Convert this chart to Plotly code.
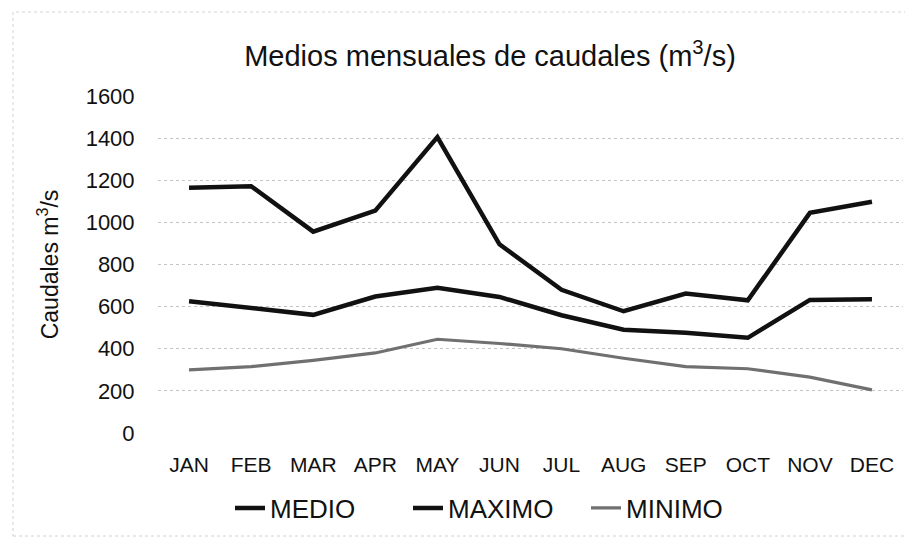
import plotly.graph_objects as go

months = ["JAN", "FEB", "MAR", "APR", "MAY", "JUN", "JUL", "AUG", "SEP", "OCT", "NOV", "DEC"]
medio = [626, 594, 561, 648, 690, 646, 559, 490, 476, 452, 632, 635]
maximo = [1164, 1172, 956, 1056, 1405, 896, 680, 578, 662, 630, 1045, 1098]
minimo = [300, 315, 345, 380, 445, 425, 400, 355, 315, 305, 265, 205]
y_ticks = [0, 200, 400, 600, 800, 1000, 1200, 1400, 1600]

FONT = "Liberation Sans, Arial, sans-serif"

fig = go.Figure()
fig.add_trace(go.Scatter(x=months, y=medio, name="MEDIO", mode="lines",
                         line=dict(color="#111111", width=4.5)))
fig.add_trace(go.Scatter(x=months, y=maximo, name="MAXIMO", mode="lines",
                         line=dict(color="#111111", width=4.5)))
fig.add_trace(go.Scatter(x=months, y=minimo, name="MINIMO", mode="lines",
                         line=dict(color="#707070", width=3.2)))

W, H = 913, 539
L, R, T, B = 150, 18, 88, 114
PW, PH = W - L - R, H - T - B

fig.update_layout(
    width=W, height=H,
    margin=dict(l=L, r=R, t=T, b=B),
    paper_bgcolor="white", plot_bgcolor="white",
    font=dict(family=FONT, color="#111111"),
    title=dict(text="Medios mensuales de caudales (m<sup>3</sup>/s)",
               x=482 / W, xanchor="center", y=1 - 48 / H, yanchor="middle",
               font=dict(size=29, family=FONT, color="#111111")),
    showlegend=True,
    legend=dict(orientation="h", x=(222 - L) / PW, xanchor="left",
                y=(425 - 500) / PH, yanchor="middle",
                entrywidth=133, entrywidthmode="pixels",
                font=dict(size=26, family=FONT, color="#111111"),
                bgcolor="rgba(0,0,0,0)"),
    xaxis=dict(type="category", range=[-0.5, len(months) - 0.5],
               showgrid=False, zeroline=False, showline=False,
               ticks="outside", ticklen=13, tickcolor="rgba(0,0,0,0)",
               tickfont=dict(size=21, family=FONT, color="#111111")),
    yaxis=dict(range=[0, 1600], tickvals=y_ticks, ticktext=[str(v) for v in y_ticks],
               showgrid=True, gridcolor="#c4c4c4", griddash="dot", gridwidth=1,
               zeroline=False, showline=False,
               ticks="outside", ticklen=18, tickcolor="rgba(0,0,0,0)",
               tickfont=dict(size=22, family=FONT, color="#111111")),
)
fig.update_yaxes(title=dict(text="Caudales m<sup>3</sup>/s", standoff=20,
                            font=dict(size=23, family=FONT, color="#111111")))

fig.add_shape(type="rect", xref="paper", yref="paper",
              x0=(5 - L) / PW, x1=(W - 3 - L) / PW,
              y0=(PH - (528 - T)) / PH, y1=(PH - (4 - T)) / PH,
              line=dict(color="#d2d2d2", width=1, dash="dot"), layer="below")

fig.write_html("out.html")
